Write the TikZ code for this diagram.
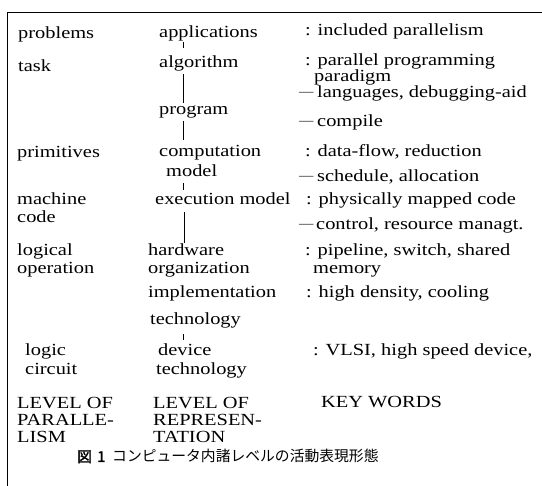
\documentclass[tikz,border=0pt]{standalone}
\usepackage{fontspec}
\setmainfont{Liberation Serif}[FakeStretch=1.2]
\newfontfamily\cjk{Noto Sans CJK JP}
\newfontfamily\cjkb{Noto Sans CJK JP}[FakeBold=2]
\begin{document}
\begin{tikzpicture}[x=1pt,y=-1pt,
  txt/.style={anchor=base west,inner sep=0pt,text height=10.5pt,text depth=3.5pt,
    font=\fontsize{17}{19}\selectfont},
  dashmark/.style={anchor=base west,inner sep=0pt,font=\fontsize{12}{14}\selectfont},
  captxt/.style={anchor=base west,inner sep=0pt,font=\fontsize{14.8}{16}\selectfont\cjk},
  capbold/.style={anchor=base west,inner sep=0pt,font=\fontsize{14.8}{16}\selectfont\cjkb},
  conn/.style={line width=0.8pt},
  frame/.style={line width=1.3pt}]
\useasboundingbox (0,0) rectangle (542,486);
\coordinate (vx) at (183,0);
\coordinate (vy) at (184,0);
\coordinate (fa) at (542,12.3);
\coordinate (fb) at (7.5,12.3);
\coordinate (fc) at (7.5,486);
\draw[frame] (fa) -- (fb) -- (fc);
% left column
\node[txt] (l1) at (18,39) {problems};
\node[txt] (l2) at (18,72) {task};
\node[txt] (l3) at (17,158) {primitives};
\node[txt] (l4a) at (17,205) {machine};
\node[txt] (l4b) at (17,223) {code};
\node[txt] (l5a) at (17,256) {logical};
\node[txt] (l5b) at (17,274) {operation};
\node[txt] (l6a) at (25,356) {logic};
\node[txt] (l6b) at (25,375) {circuit};
\node[txt] (l7a) at (17,409) {LEVEL OF};
\node[txt] (l7b) at (17,426) {PARALLE-};
\node[txt] (l7c) at (17,443) {LISM};
% middle column
\node[txt] (app) at (159,37.5) {applications};
\node[txt] (alg) at (159,67.5) {algorithm};
\node[txt] (prog) at (159,115) {program};
\node[txt] (comp) at (159,157) {computation};
\node[txt] (model) at (166,177) {model};
\node[txt] (exec) at (155,205) {execution model};
\node[txt] (hw) at (148,256) {hardware};
\node[txt] (org) at (148,274) {organization};
\node[txt] (impl) at (148,298) {implementation};
\node[txt] (tech) at (150,325) {technology};
\node[txt] (dev) at (158,356) {device};
\node[txt] (devt) at (156,375) {technology};
\node[txt] (m7a) at (153,409) {LEVEL OF};
\node[txt] (m7b) at (153,426) {REPRESEN-};
\node[txt] (m7c) at (153,443) {TATION};
% right column
\node[txt] (k1) at (305,36) {: included parallelism};
\node[txt] (k2) at (305,66) {: parallel programming};
\node[txt] (k2b) at (314,82) {paradigm};
\node[dashmark] (d3) at (299,96) {—};
\node[txt] (k3) at (317,98) {languages, debugging-aid};
\node[dashmark] (d4) at (299,125) {—};
\node[txt] (k4) at (317,127) {compile};
\node[txt] (k5) at (305,157) {: data-flow, reduction};
\node[dashmark] (d6) at (299,180) {—};
\node[txt] (k6) at (317,182) {schedule, allocation};
\node[txt] (k7) at (306,205) {: physically mapped code};
\node[dashmark] (d8) at (299,228) {—};
\node[txt] (k8) at (316,230) {control, resource managt.};
\node[txt] (k9) at (305,256) {: pipeline, switch, shared};
\node[txt] (k9b) at (313,274) {memory};
\node[txt] (k10) at (306,298) {: high density, cooling};
\node[txt] (k11) at (313,356) {: VLSI, high speed device,};
\node[txt] (k12) at (321,407.5) {KEY WORDS};
% caption
\node[capbold] (fig) at (77,462) {図};
\node[capbold] (fign) at (97,462) {1};
\node[captxt] (capt) at (112,462) {コンピュータ内諸レベルの活動表現形態};
% connectors
\draw[conn,shorten <=0.5pt,shorten >=9pt] (app.south -| vx) -- (alg.north -| vx);
\draw[conn,shorten <=3pt,shorten >=1.5pt] (alg.south -| vx) -- (prog.north -| vx);
\draw[conn,shorten <=2.5pt,shorten >=6.5pt] (prog.south -| vx) -- (comp.north -| vx);
\draw[conn,shorten <=2.5pt,shorten >=4.5pt] (model.south -| vx) -- (exec.north -| vx);
\draw[conn,shorten <=3.5pt,shorten >=2.5pt] (exec.south -| vy) -- (hw.north -| vy);
\draw[conn,shorten <=5.5pt,shorten >=5.5pt] (tech.south -| vx) -- (dev.north -| vx);
\end{tikzpicture}
\end{document}
